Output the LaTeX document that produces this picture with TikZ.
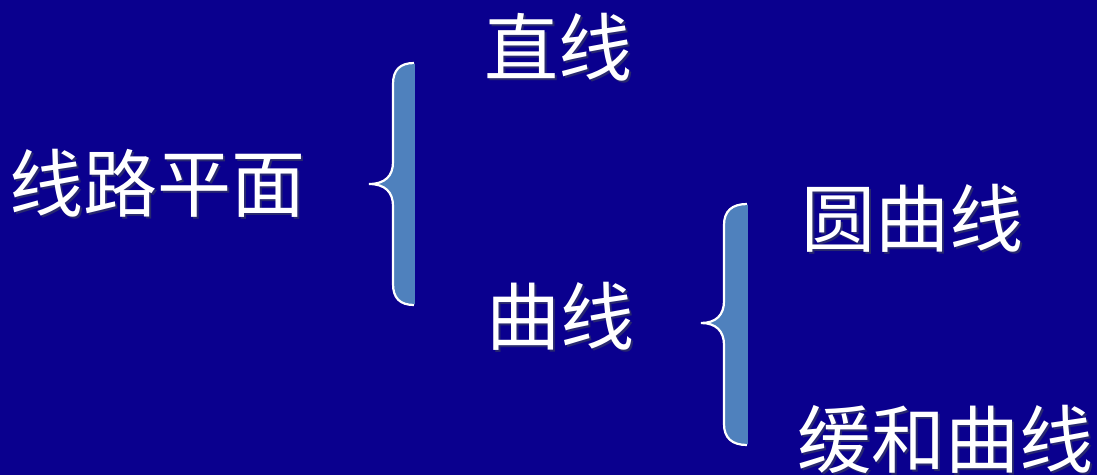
\documentclass[tikz,border=0pt]{standalone}
\usepackage{fontspec}
\newfontfamily\cjk{Noto Sans CJK SC}
\definecolor{bg}{RGB}{10,0,142}
\definecolor{bracefill}{RGB}{79,129,189}
\definecolor{shadowc}{RGB}{40,40,110}
\tikzset{
  lbl/.style={anchor=base west, inner sep=0pt, text=white, font=\cjk\fontsize{74}{74}\selectfont},
  shd/.style={anchor=base west, inner sep=0pt, text=shadowc, font=\cjk\fontsize{74}{74}\selectfont},
  bracestyle/.style={fill=bracefill, draw=white, line width=2.2pt}
}
\begin{document}
\begin{tikzpicture}[x=1pt,y=-1pt]
\fill[bg] (0,0) rectangle (1097,475);
\useasboundingbox (0,0) rectangle (1097,475);
\begin{scope}
\clip (0,0) rectangle (1097,475);
% brace 1
\path[bracestyle] (414,63) .. controls (400,63) and (393,70) .. (393,84)
  -- (393,162) .. controls (393,176) and (385,184) .. (369,184)
  .. controls (385,184) and (393,192) .. (393,206)
  -- (393,284) .. controls (393,298) and (400,305) .. (414,305);
\fill[bracefill] (412.9,64.1) rectangle (414.5,303.9);
% brace 2
\path[bracestyle] (747,204) .. controls (732,204) and (724,211) .. (724,225)
  -- (724,301) .. controls (724,315) and (716,323) .. (701,323)
  .. controls (716,323) and (724,331) .. (724,345)
  -- (724,424) .. controls (724,438) and (732,445) .. (747,445);
\fill[bracefill] (745.9,205.1) rectangle (747.5,443.9);
% texts with shadows
\foreach \nm/\tx/\px/\py in {a/直线/484/75, b/线路平面/9/211, c/圆曲线/801/246, d/曲线/486/344, e/缓和曲线/797/467}{
  \node[shd] (\nm s) at (\px+2.5,\py+2.5) {\tx};
  \node[lbl] (\nm) at (\px,\py) {\tx};
}
\end{scope}
\end{tikzpicture}
\end{document}
